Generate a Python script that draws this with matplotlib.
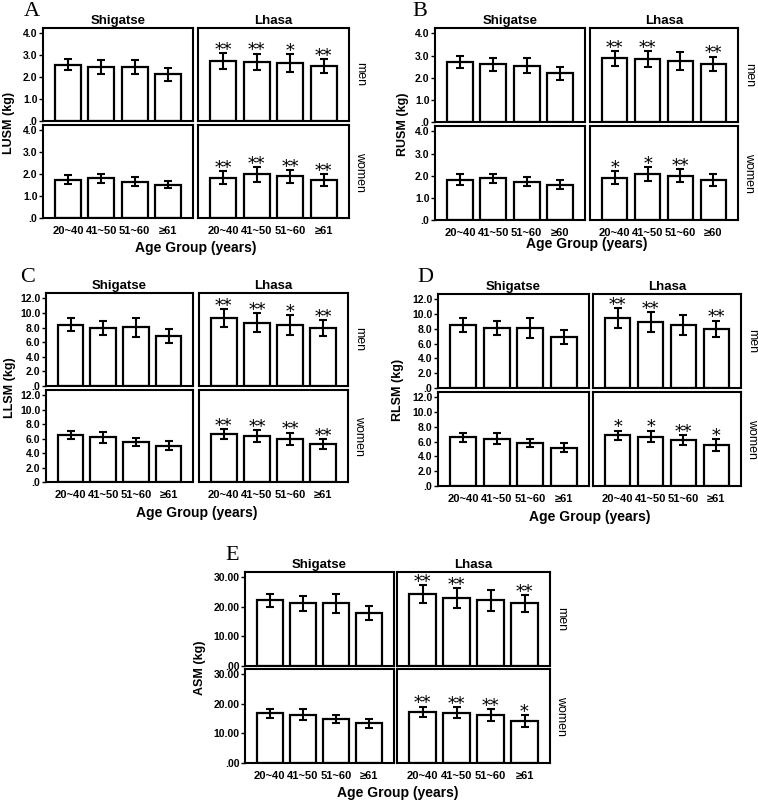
#!/usr/bin/env python3
"""
Regional skeletal muscle mass by age group, Shigatse vs Lhasa (panels A-E)
"""

import matplotlib
matplotlib.use("Agg")
import matplotlib.pyplot as plt
import numpy as np

W, H = 758, 801

# rows in each array: Shigatse men, Lhasa men, Shigatse women, Lhasa women
LUSM_MEAN = [[2.57, 2.47, 2.46, 2.14], [2.75, 2.70, 2.63, 2.52],
             [1.75, 1.81, 1.66, 1.53], [1.84, 1.99, 1.91, 1.73]]
LUSM_ERR = [[0.26, 0.32, 0.33, 0.30], [0.36, 0.38, 0.41, 0.32],
            [0.20, 0.22, 0.19, 0.18], [0.30, 0.33, 0.29, 0.26]]
LUSM_STARS = [["", "", "", ""], ["**", "**", "*", "**"],
              ["", "", "", ""], ["**", "**", "**", "**"]]

RUSM_MEAN = [[2.70, 2.60, 2.55, 2.20], [2.87, 2.84, 2.76, 2.63],
             [1.83, 1.88, 1.73, 1.60], [1.92, 2.08, 2.00, 1.81]]
RUSM_ERR = [[0.28, 0.30, 0.33, 0.30], [0.32, 0.37, 0.42, 0.33],
            [0.23, 0.22, 0.20, 0.20], [0.30, 0.30, 0.30, 0.27]]
RUSM_STARS = [["", "", "", ""], ["**", "**", "", "**"],
              ["", "", "", ""], ["*", "*", "**", ""]]

LLSM_MEAN = [[8.40, 8.00, 8.05, 6.80], [9.30, 8.70, 8.35, 7.95],
             [6.50, 6.20, 5.60, 5.05], [6.60, 6.40, 6.00, 5.25]]
LLSM_ERR = [[0.85, 0.95, 1.30, 0.95], [1.25, 1.30, 1.35, 1.10],
            [0.60, 0.75, 0.55, 0.60], [0.70, 0.80, 0.85, 0.70]]
LLSM_STARS = [["", "", "", ""], ["**", "**", "*", "**"],
              ["", "", "", ""], ["**", "**", "**", "**"]]

RLSM_MEAN = [[8.55, 8.15, 8.15, 6.90], [9.50, 8.95, 8.55, 8.00],
             [6.60, 6.40, 5.80, 5.20], [6.85, 6.70, 6.20, 5.55]]
RLSM_ERR = [[0.95, 1.00, 1.35, 1.00], [1.30, 1.30, 1.40, 1.15],
            [0.60, 0.75, 0.55, 0.60], [0.65, 0.80, 0.65, 0.80]]
RLSM_STARS = [["", "", "", ""], ["**", "**", "", "**"],
              ["", "", "", ""], ["*", "*", "**", "*"]]

ASM_MEAN = [[22.3, 21.2, 21.2, 18.1], [24.5, 23.0, 22.3, 21.2],
            [16.8, 16.4, 14.9, 13.4], [17.3, 17.1, 16.2, 14.3]]
ASM_ERR = [[2.2, 2.4, 3.3, 2.4], [3.0, 3.3, 3.5, 2.9],
           [1.6, 1.85, 1.5, 1.55], [1.8, 1.95, 2.0, 2.0]]
ASM_STARS = [["", "", "", ""], ["**", "**", "", "**"],
             ["", "", "", ""], ["**", "**", "**", "*"]]

AGE_LABELS = ["20~40", "41~50", "51~60", "\u226561"]
AGE_LABELS_B = ["20~40", "41~50", "51~60", "\u226560"]
SITES = ["Shigatse", "Lhasa"]
SEXES = ["men", "women"]

TICKS_4 = [0, 1, 2, 3, 4]
TICKLABELS_4 = [".0", "1.0", "2.0", "3.0", "4.0"]
TICKS_12 = [0, 2, 4, 6, 8, 10, 12]
TICKLABELS_12 = [".0", "2.0", "4.0", "6.0", "8.0", "10.0", "12.0"]
TICKS_30 = [0, 10, 20, 30]
TICKLABELS_30 = [".00", "10.00", "20.00", "30.00"]

plt.rcParams['font.family'] = ['Liberation Sans', 'DejaVu Sans']


def px(x, y):
    return x / W, 1 - y / H


def add_ax(fig, x0, y0, x1, y1):
    return fig.add_axes([x0 / W, 1 - y1 / H, (x1 - x0) / W, (y1 - y0) / H])


def draw_panel(fig, letter, ylabel, means, errs, stars, xcols, rows,
               ticks, ticklabels, ages, letter_xy, ylabel_x, lab_y):
    ymax = ticks[-1] * 1.062
    x = np.arange(4)
    for r in range(2):
        for c in range(2):
            k = r * 2 + c
            ax = add_ax(fig, xcols[c][0], rows[r][0], xcols[c][1], rows[r][1])
            ax.bar(x, means[k], width=0.78, color='white', edgecolor='black',
                   linewidth=1.6, zorder=2)
            ax.errorbar(x, means[k], yerr=errs[k], fmt='none', ecolor='black',
                        elinewidth=1.5, capsize=3, capthick=1.5, zorder=3)
            for i in range(4):
                if stars[k][i]:
                    ax.annotate(stars[k][i], (i, means[k][i] + errs[k][i]),
                                xytext=(0, 2), textcoords='offset points',
                                ha='center', va='center', fontsize=12.5,
                                family='DejaVu Serif', zorder=4,
                                annotation_clip=False)
            ax.set_xlim(-0.75, 3.75)
            ax.set_ylim(0, ymax)
            for s in ax.spines.values():
                s.set_linewidth(1.5)
            ax.set_yticks(ticks)
            if c == 0:
                ax.set_yticklabels(ticklabels, fontsize=7.5, fontweight='bold')
                ax.tick_params(axis='y', length=3, width=1, pad=1)
            else:
                ax.tick_params(axis='y', left=False, labelleft=False)
            ax.set_xticks(x)
            if r == 1:
                ax.set_xticklabels(ages, fontsize=8, fontweight='bold')
                ax.tick_params(axis='x', length=0, pad=6)
            else:
                ax.tick_params(axis='x', bottom=False, labelbottom=False)
            if r == 0:
                ax.set_title(SITES[c], fontsize=9.5, fontweight='bold', pad=3)
        fig.text(*px(xcols[1][1] + 5, (rows[r][0] + rows[r][1]) / 2), SEXES[r],
                 rotation=-90, ha='left', va='center', fontsize=9)

    fig.text(*px(*letter_xy), letter, family='Liberation Serif', fontsize=16,
             ha='left', va='center')
    fig.text(*px(ylabel_x, (rows[0][0] + rows[1][1]) / 2), ylabel,
             rotation=90, ha='center', va='center', fontsize=9,
             fontweight='bold')
    fig.text(*px((xcols[0][0] + xcols[1][1]) / 2, lab_y), 'Age Group (years)',
             ha='center', va='center', fontsize=10, fontweight='bold')


def main():
    fig = plt.figure(figsize=(W / 100, H / 100), dpi=100)

    draw_panel(fig, 'A', 'LUSM (kg)', LUSM_MEAN, LUSM_ERR, LUSM_STARS,
               [(43, 193), (198, 349)], [(28, 121), (125, 218)],
               TICKS_4, TICKLABELS_4, AGE_LABELS, (24, 11), 9, 248)
    draw_panel(fig, 'B', 'RUSM (kg)', RUSM_MEAN, RUSM_ERR, RUSM_STARS,
               [(435, 585), (590, 738)], [(28, 122), (126, 220)],
               TICKS_4, TICKLABELS_4, AGE_LABELS_B, (412, 11), 403, 244)
    draw_panel(fig, 'C', 'LLSM (kg)', LLSM_MEAN, LLSM_ERR, LLSM_STARS,
               [(46, 193), (199, 348)], [(293, 386), (390, 482)],
               TICKS_12, TICKLABELS_12, AGE_LABELS, (20, 278), 10, 513)
    draw_panel(fig, 'D', 'RLSM (kg)', RLSM_MEAN, RLSM_ERR, RLSM_STARS,
               [(438, 589), (593, 741)], [(294, 388), (392, 486)],
               TICKS_12, TICKLABELS_12, AGE_LABELS, (417, 278), 398, 517)
    draw_panel(fig, 'E', 'ASM (kg)', ASM_MEAN, ASM_ERR, ASM_STARS,
               [(245, 394), (397, 550)], [(572, 666), (669, 763)],
               TICKS_30, TICKLABELS_30, AGE_LABELS, (225, 555), 200, 793)

    fig.savefig('out.png', dpi=100)
    plt.close(fig)


if __name__ == "__main__":
    main()
